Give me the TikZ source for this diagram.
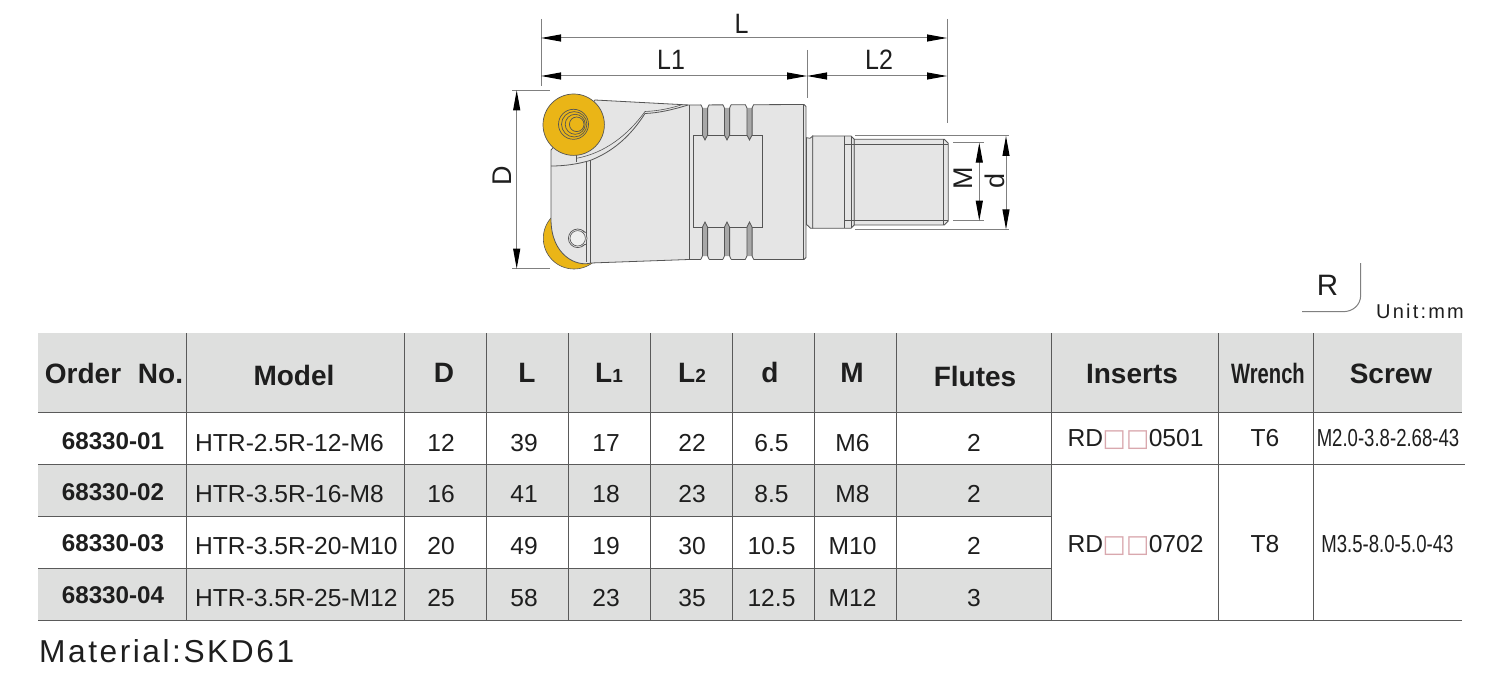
\documentclass[tikz,border=0pt]{standalone}
\usepackage{fontspec}
\usepackage{graphicx}
\setmainfont{Liberation Sans}
\newfontfamily\dejasym{DejaVu Sans}
\newfontfamily\spacedA[LetterSpace=8]{Liberation Sans}
\newfontfamily\spacedB[LetterSpace=11]{Liberation Sans}
\usetikzlibrary{arrows.meta}
\definecolor{hdrgrey}{HTML}{DEDFDE}
\definecolor{bodygrey}{HTML}{E5E5E5}
\definecolor{groovegrey}{HTML}{A8A8A8}
\definecolor{gridline}{HTML}{5A5A5A}
\definecolor{draftline}{HTML}{555555}
\definecolor{dimline}{HTML}{808080}
\definecolor{insertyellow}{HTML}{EAB517}
\definecolor{txt}{HTML}{1E1E1E}
\definecolor{boxpink}{HTML}{D9A8AE}
\newcommand{\rdsq}{{\dejasym\textcolor{boxpink}{\kern-.5pt□\kern.2pt□\kern-.5pt}}}
\newcommand{\narrowtxt}[2]{\scalebox{#1}[1]{#2}}
\newcommand{\tallertxt}[1]{\scalebox{1}[1.12]{#1}}
\tikzset{
  x=1pt,y=-1pt,
  hdrcell/.style={inner sep=0,text height=20pt,text depth=0pt,text=txt,font=\bfseries\fontsize{28}{28}\selectfont},
  idcell/.style={inner sep=0,text height=17pt,text depth=0pt,text=txt,font=\bfseries\fontsize{24.2}{24.2}\selectfont},
  valcell/.style={inner sep=0,text height=17.6pt,text depth=0pt,text=txt,font=\fontsize{24.6}{24.6}\selectfont},
  dimlabel/.style={inner sep=0,text height=20pt,text depth=0pt,text=txt,font=\fontsize{25}{25}\selectfont},
  sidelabel/.style={inner sep=0,text height=19.5pt,text depth=0pt,text=txt,font=\fontsize{27}{27}\selectfont},
  grid/.style={draw=gridline,line width=1pt},
  outline/.style={draw=draftline,line width=.8pt},
  dimext/.style={draw=dimline,line width=1pt},
  dimarrow/.style={draw=dimline,line width=1pt,
    {Stealth[length=20pt,width=7pt,inset=0pt,black]}-{Stealth[length=20pt,width=7pt,inset=0pt,black]}},
}
\begin{document}
\begin{tikzpicture}
\useasboundingbox (0,0) rectangle (1500,682);
% ---------- table fills
\fill[hdrgrey] (38,333) rectangle (1462,412);
\fill[hdrgrey] (38,464) rectangle (1052,516);
\fill[hdrgrey] (38,568) rectangle (1052,620);
% ---------- table rules
\foreach \xx in {186.7,404.7,486.6,568.6,650.6,732.4,814.4,896.6,1051.6,1218.6,1313.6}
  \draw[grid] (\xx,333) -- (\xx,620);
\draw[grid] (38,412) -- (1462,412);
\draw[grid] (38,464) -- (1465,464);
\draw[grid] (38,516) -- (1052,516);
\draw[grid] (38,568) -- (1052,568);
\draw[grid] (38,620) -- (1462,620);
% ---------- header
\node[hdrcell] (hOrder) at (114,373) {Order\hspace{9pt} No.};
\node[hdrcell] (hModel) at (294,375) {Model};
\node[hdrcell] (hD) at (444,372) {D};
\node[hdrcell] (hL) at (527,372) {L};
\node[hdrcell] (hLa) at (609,372) {L{\fontsize{19}{19}\selectfont 1}};
\node[hdrcell] (hLb) at (692,372) {L{\fontsize{19}{19}\selectfont 2}};
\node[hdrcell] (hd) at (770,372) {d};
\node[hdrcell] (hM) at (852,372) {M};
\node[hdrcell] (hFlutes) at (975,376) {Flutes};
\node[hdrcell] (hInserts) at (1132,373) {Inserts};
\node[hdrcell] (hWrench) at (1268,373) {\narrowtxt{.72}{Wrench}};
\node[hdrcell] (hScrew) at (1391,373) {Screw};
% ---------- rows
\foreach \rn/\ya/\yb/\vA/\vB/\vC/\vD/\vE/\vF/\vG/\vH/\vI in {
 1/441/443/68330-01/HTR-2.5R-12-M6/12/39/17/22/6.5/M6/2,
 2/492/494/68330-02/HTR-3.5R-16-M8/16/41/18/23/8.5/M8/2,
 3/543/546/68330-03/HTR-3.5R-20-M10/20/49/19/30/10.5/M10/2,
 4/595/598/68330-04/HTR-3.5R-25-M12/25/58/23/35/12.5/M12/3}{
  \node[idcell] (id\rn) at (113,\ya) {\vA};
  \node[valcell,anchor=west] (model\rn) at (195,\yb) {\vB};
  \node[valcell] (D\rn) at (441,\yb) {\vC};
  \node[valcell] (L\rn) at (524,\yb) {\vD};
  \node[valcell] (La\rn) at (606,\yb) {\vE};
  \node[valcell] (Lb\rn) at (692,\yb) {\vF};
  \node[valcell] (dd\rn) at (771.5,\yb) {\vG};
  \node[valcell] (M\rn) at (852.5,\yb) {\vH};
  \node[valcell] (Fl\rn) at (974,\yb) {\vI};
}
\node[valcell] (ins1) at (1135.5,438) {RD\rdsq 0501};
\node[valcell] (ins2) at (1135.5,544) {RD\rdsq 0702};
\node[valcell] (wr1) at (1265,438) {T6};
\node[valcell] (wr2) at (1265,544) {T8};
\node[valcell] (sc1) at (1388,438) {\narrowtxt{.755}{M2.0-3.8-2.68-43}};
\node[valcell] (sc2) at (1387.5,544) {\narrowtxt{.755}{M3.5-8.0-5.0-43}};
% ---------- footer + unit
\node[inner sep=0,anchor=base west,text=txt,font=\spacedA\fontsize{31.7}{32}\selectfont] (material) at (39,662) {Material:SKD61};
\node[inner sep=0,anchor=base east,text=txt,font=\spacedB\fontsize{20}{20}\selectfont] (unit) at (1464,318.5) {Unit:mm};
\node[inner sep=0,text height=21pt,text depth=0pt,text=txt,font=\fontsize{29.5}{30}\selectfont] (Rsym) at (1327.5,285) {R};
\draw[draw=dimline,line width=1pt] (1302,311.7) -- (1343,311.7) .. controls (1353,311.7) and (1360.7,305) .. (1360.7,295) -- (1360.7,263);
% ---------- lower insert (crescent)
\filldraw[fill=insertyellow,draw=draftline,line width=.6pt] (574,238.3) circle (30.7);
% ---------- cutter body
\filldraw[fill=bodygrey,outline] (551,150) -- (595,100) -- (689,105) -- (804,104.5) -- (806,106.5)
  -- (806,257.5) -- (804,259.5) -- (689,259.5) -- (591,263)
  .. controls (577,267) and (551,256) .. (551,219) -- cycle;
\draw[outline] (689.3,105) -- (689.3,259.5);
\draw[draw=draftline,line width=.5pt] (803.7,104.5) -- (803.7,259.5);
% flat
\filldraw[fill=bodygrey,outline] (693.3,135) rectangle (762.7,227.3);
% grooves
\foreach \c in {705,727,749.5}{
  \fill[white] (\c-4.2,104) -- (\c-2.6,108) -- (\c+2.6,108) -- (\c+4.2,104) -- cycle;
  \draw[outline] (\c-4.2,104.5) -- (\c-2.6,108) (\c+4.2,104.5) -- (\c+2.6,108);
  \filldraw[fill=groovegrey,outline] (\c-2.6,108) -- (\c-2.6,135) -- (\c,140) -- (\c+2.6,135) -- (\c+2.6,108);
  \fill[white] (\c-4.2,260) -- (\c-2.6,256) -- (\c+2.6,256) -- (\c+4.2,260) -- cycle;
  \draw[outline] (\c-4.2,259.5) -- (\c-2.6,256) (\c+4.2,259.5) -- (\c+2.6,256);
  \filldraw[fill=groovegrey,outline] (\c-2.6,256) -- (\c-2.6,227.3) -- (\c,222) -- (\c+2.6,227.3) -- (\c+2.6,256);
}
% clamp
\draw[outline] (551,166) .. controls (565,166) and (578,164) .. (590,160.5)
  .. controls (612,152) and (630,137) .. (645,113.5)
  .. controls (658,113) and (672,110) .. (688,105);
\draw[draw=draftline,line width=.6pt] (576.5,155) -- (576.5,162);
\draw[draw=draftline,line width=.6pt] (576.5,158.3) .. controls (605,153) and (628,135) .. (645,111.5)
  .. controls (658,111) and (670,108.5) .. (681,105);
\draw[outline] (586.7,162) -- (586.7,262);
\draw[outline] (590.7,160.5) -- (590.7,262.7);
% small screw
\filldraw[fill=bodygrey,draw=draftline,line width=.7pt] (577.7,238.3) circle (9.3);
\fill[bodygrey] (583,231.5) rectangle (586.3,245);
\draw[draw=draftline,line width=.7pt] (582.5,230.5) .. controls (583.5,232) and (585,232.5) .. (586.5,232.5);
\draw[draw=draftline,line width=.7pt] (582.5,246.2) .. controls (583.5,244.7) and (585,244.2) .. (586.5,244.2);
\filldraw[fill=hdrgrey!50!white,draw=draftline,line width=.6pt] (577.7,238.3) circle (7.7);
% upper insert
\filldraw[fill=insertyellow,draw=draftline,line width=.7pt] (573.7,124.7) circle (30.7);
\draw[draw=draftline,line width=.7pt] (573.5,124.3) circle (15);
\draw[draw=draftline,line width=.7pt] (574.2,124.3) circle (12.7);
\draw[draw=draftline,line width=.7pt] (575.2,124.3) circle (10);
\draw[draw=draftline,line width=.7pt] (576.7,124.3) circle (7.3);
% ---------- shank
\filldraw[fill=bodygrey,outline] (806.5,137.7) -- (810,138.3) -- (812.7,136) -- (812.7,228.3) -- (810.5,228.3) -- (807.3,225) -- (806.5,225) -- cycle;
\filldraw[fill=bodygrey,outline] (812.7,136) -- (851,136) -- (854.3,139.3) -- (854.3,225) -- (851,228.3) -- (812.7,228.3) -- cycle;
\draw[outline] (844.7,136) -- (844.7,228.3) (851,136) -- (851,228.3);
\filldraw[fill=bodygrey,outline] (854.3,139.3) -- (944.3,139.3) -- (948.3,143.3) -- (948.3,221) -- (944.3,225) -- (854.3,225) -- cycle;
\draw[outline] (844.7,144.3) -- (948.3,144.3) (844.7,220) -- (948.3,220);
\draw[outline] (943.3,139.3) -- (943.3,225);
% ---------- dimensions
\coordinate (Lleft) at (541,38);
\coordinate (Lright) at (947,38);
\coordinate (Laleft) at (541,76);
\coordinate (Lamid) at (807,76);
\coordinate (Lbright) at (947,76);
\draw[dimext] (541,19) -- (541,86);
\draw[dimext] (947,19) -- (947,123);
\draw[dimext] (807,50) -- (807,98);
\draw[dimarrow] (Lleft) -- (Lright);
\draw[dimarrow] (Laleft) -- (Lamid);
\draw[dimarrow] (Lamid) -- (Lbright);
\node[dimlabel] (labL) at (741.5,24) {\tallertxt{L}};
\node[dimlabel] (labLa) at (671,59.5) {\tallertxt{L1}};
\node[dimlabel] (labLb) at (879,60) {\tallertxt{L2}};
\coordinate (Dtop) at (516.7,90.3);
\coordinate (Dbot) at (516.7,268.7);
\draw[dimext] (512,90.3) -- (550,90.3) (512,268.7) -- (550,268.7);
\draw[dimarrow] (Dtop) -- (Dbot);
\node[sidelabel,rotate=90] (labD) at (501.7,176) {D};
\coordinate (Mtop) at (979.3,142.7);
\coordinate (Mbot) at (979.3,220.7);
\draw[dimext] (953,142.7) -- (984,142.7) (953,220.7) -- (984,220.7);
\draw[dimarrow] (Mtop) -- (Mbot);
\node[sidelabel,rotate=90] (labM) at (963,178) {M};
\coordinate (dtop) at (1006,136);
\coordinate (dbot) at (1006,229.3);
\draw[dimext] (855,136) -- (1009,136) (855,229.3) -- (1009,229.3);
\draw[dimarrow] (dtop) -- (dbot);
\node[sidelabel,rotate=90] (labd) at (994.7,180.5) {d};
\end{tikzpicture}
\end{document}
